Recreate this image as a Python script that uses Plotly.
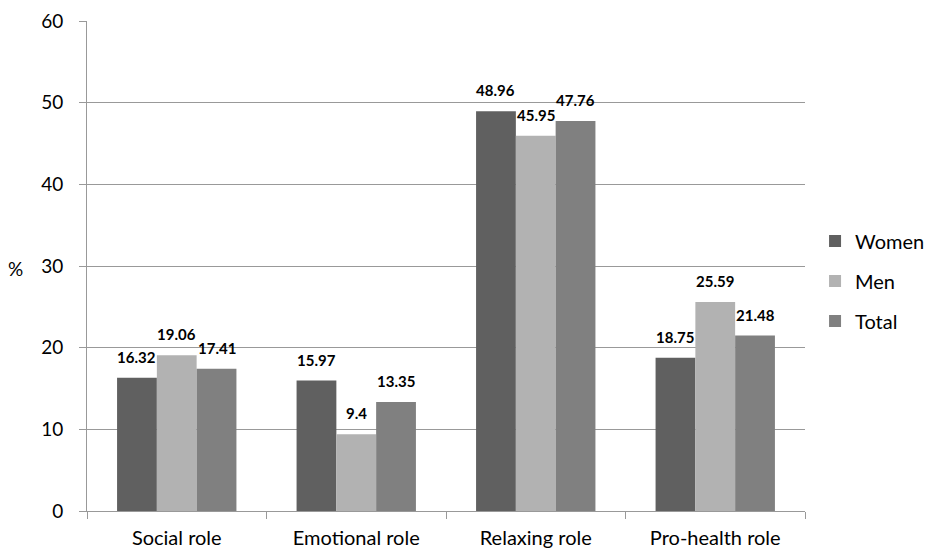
import plotly.graph_objects as go

categories = ["Social role", "Emotional role", "Relaxing role", "Pro-health role"]
women = [16.32, 15.97, 48.96, 18.75]
men = [19.06, 9.4, 45.95, 25.59]
total = [17.41, 13.35, 47.76, 21.48]
y_ticks = [0, 10, 20, 30, 40, 50, 60]

series = [
    ("Women", women, "#606060"),
    ("Men", men, "#b2b2b2"),
    ("Total", total, "#808080"),
]

FONT = "Lato, 'Open Sans', sans-serif"

W, H = 931, 549
M_L, M_R, M_T, M_B = 87, 126, 21, 38
BARGAP = 0.335

# pixel width of one bar, used to centre the value labels over their bars
plot_w = W - M_L - M_R
plot_h = H - M_T - M_B
bar_px = plot_w / len(categories) * (1 - BARGAP) / len(series)

fig = go.Figure()
annotations = []
for i, (name, vals, color) in enumerate(series):
    fig.add_trace(go.Bar(
        name=name,
        legendgroup=name,
        x=categories,
        y=vals,
        marker=dict(color=color, line=dict(width=0)),
    ))
    shift = (i - (len(series) - 1) / 2) * bar_px
    for cat, v in zip(categories, vals):
        annotations.append(dict(
            x=cat, y=v, xref="x", yref="y",
            text=f"<b>{v:g}</b>",
            showarrow=False, xanchor="center", yanchor="bottom",
            xshift=shift, yshift=10,
            font=dict(family=FONT, size=15, color="#000000"),
        ))

annotations.append(dict(
    text="%", xref="paper", yref="paper", x=-0.1, y=0.495,
    xanchor="center", yanchor="middle", showarrow=False,
    font=dict(family=FONT, size=19, color="#000000"),
))

fig.update_layout(
    width=W,
    height=H,
    margin=dict(l=M_L, r=M_R, t=M_T, b=M_B, autoexpand=False),
    paper_bgcolor="white",
    plot_bgcolor="white",
    barmode="group",
    bargap=BARGAP,
    bargroupgap=0,
    font=dict(family=FONT, size=19, color="#000000"),
    showlegend=True,
    legend=dict(
        x=1.014, y=0.5 - 15 / plot_h, xanchor="left", yanchor="middle",
        font=dict(size=20), itemwidth=30, tracegroupgap=11,
        traceorder="grouped",
    ),
    xaxis=dict(
        showgrid=False,
        showline=True, linecolor="#999999", linewidth=1,
        ticks="outside", tickson="boundaries", ticklen=7, tickcolor="#999999",
        tickfont=dict(size=20),
        ticklabelstandoff=9,
    ),
    yaxis=dict(
        range=[0, 60],
        tickvals=y_ticks,
        showgrid=True, gridcolor="#999999", gridwidth=1,
        showline=True, linecolor="#999999", linewidth=1,
        ticks="outside", ticklen=7, tickcolor="#999999",
        zeroline=False,
        tickfont=dict(size=19),
        ticklabelstandoff=12,
    ),
    annotations=annotations,
)

fig.write_html("out.html")
